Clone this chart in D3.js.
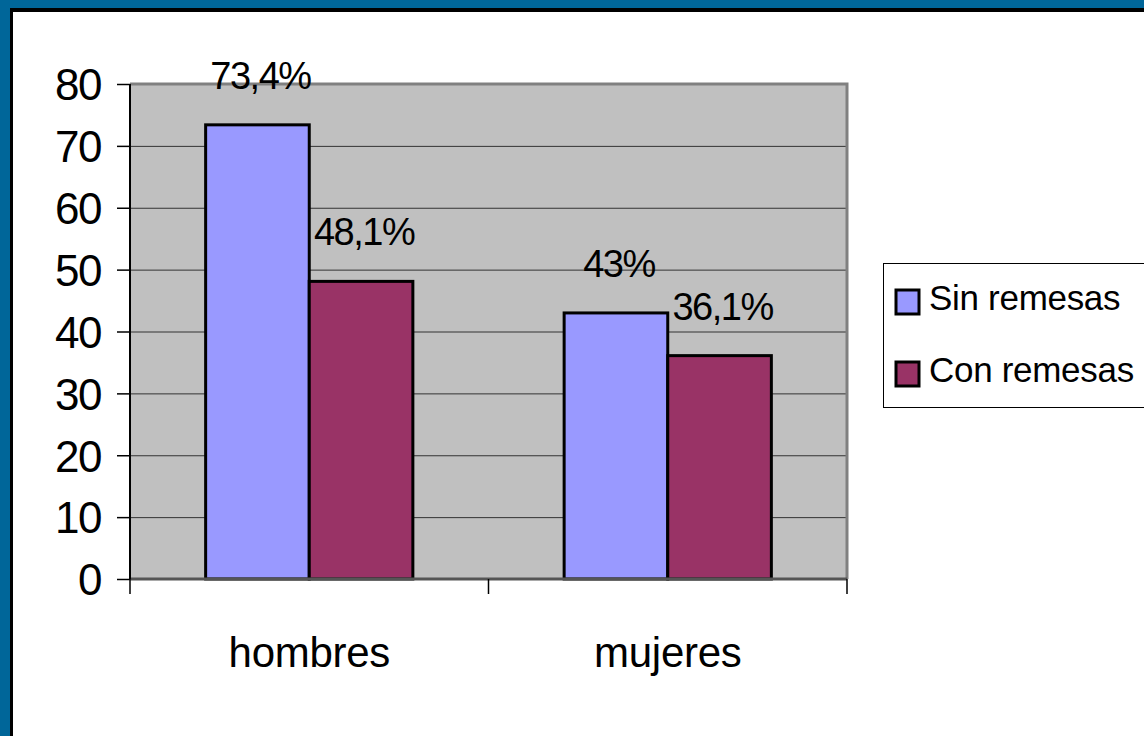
<!DOCTYPE html>
<html><head><meta charset="utf-8">
<script src="https://cdn.jsdelivr.net/npm/d3@7/dist/d3.min.js"></script>
<style>
html,body{margin:0;padding:0;background:#fff;}
svg{display:block;font-family:"Liberation Sans",Arial,sans-serif;}
</style></head>
<body>
<svg id="chart" width="1144" height="736"></svg>
<script>
const categories = ["hombres", "mujeres"];
const seriesNames = ["Sin remesas", "Con remesas"];
const sinRemesas = [73.4, 43];
const conRemesas = [48.1, 36.1];
const sinLabels = ["73,4%", "43%"];
const conLabels = ["48,1%", "36,1%"];
const yTicks = [0, 10, 20, 30, 40, 50, 60, 70, 80];
const colors = ["#9999FF", "#993366"];

const svg = d3.select("#chart");
// frame
svg.append("rect").attr("x",0).attr("y",0).attr("width",1144).attr("height",736).attr("fill","#006699");
svg.append("rect").attr("x",10).attr("y",8).attr("width",1144).attr("height",736).attr("fill","#000");
svg.append("rect").attr("x",13).attr("y",12).attr("width",1144).attr("height",736).attr("fill","#fff");

const L = 130, R = 847, T = 84, B = 579;
const x0 = d3.scaleBand().domain(categories).range([L, R]).paddingInner(0).paddingOuter(0);
const x1 = d3.scaleBand().domain(seriesNames).range([0, x0.bandwidth()]).paddingInner(0).paddingOuter(0.73);
const y = d3.scaleLinear().domain([0, 80]).range([B, T]);

// plot bg
svg.append("rect").attr("x",L).attr("y",T).attr("width",R-L).attr("height",B-T).attr("fill","#C0C0C0");
// grid
svg.append("g").selectAll("line").data(yTicks.filter(d=>d>0 && d<80)).join("line")
  .attr("x1",L).attr("x2",R).attr("y1",d=>y(d)+0.5).attr("y2",d=>y(d)+0.5)
  .attr("stroke","#333").attr("stroke-width",1);
// plot border top/right grey
svg.append("path").attr("d",`M${L},${T} H${R} V${B}`).attr("fill","none").attr("stroke","#808080").attr("stroke-width",3);

// bars
const data = categories.map((c,i)=>({cat:c, vals:[
  {s:seriesNames[0], v:sinRemesas[i], lab:sinLabels[i], col:colors[0]},
  {s:seriesNames[1], v:conRemesas[i], lab:conLabels[i], col:colors[1]}]}));
const g = svg.append("g").selectAll("g").data(data).join("g").attr("transform",d=>`translate(${x0(d.cat)},0)`);
g.selectAll("rect").data(d=>d.vals).join("rect")
  .attr("x",d=>x1(d.s)).attr("y",d=>y(d.v)).attr("width",x1.bandwidth()).attr("height",d=>B-y(d.v))
  .attr("fill",d=>d.col).attr("stroke","#000").attr("stroke-width",3);
g.selectAll("text").data(d=>d.vals).join("text")
  .attr("x",d=>x1(d.s)+x1.bandwidth()/2+3).attr("y",d=>y(d.v)-36)
  .attr("text-anchor","middle").attr("font-size",38).attr("letter-spacing",-1.5).attr("fill","#000")
  .text(d=>d.lab);

// bottom axis line
svg.append("line").attr("x1",L).attr("x2",R).attr("y1",B).attr("y2",B).attr("stroke","#555").attr("stroke-width",3);
// y axis
const yAxis = d3.axisLeft(y).tickValues(yTicks).tickSize(13).tickPadding(16).tickFormat(d3.format("d"));
const ya = svg.append("g").attr("transform",`translate(${L},0)`).call(yAxis);
ya.select(".domain").attr("stroke","#000").attr("stroke-width",2).attr("d",`M0,${T}V${B}`);
ya.selectAll(".tick line").attr("stroke","#000").attr("stroke-width",1.5);
ya.selectAll(".tick text").attr("font-size",44).attr("letter-spacing",-1.5).attr("fill","#000")
  .attr("font-family","Liberation Sans, Arial, sans-serif").attr("dy","0.36em");

// x axis
const xAxis = d3.axisBottom(x0).tickSize(0).tickPadding(0);
const xa = svg.append("g").attr("transform",`translate(0,${B})`).call(xAxis);
xa.select(".domain").remove();
xa.selectAll(".tick text").attr("font-size",42).attr("letter-spacing",-0.3).attr("fill","#000")
  .attr("font-family","Liberation Sans, Arial, sans-serif").attr("y",88).attr("dy",0);
// category separators
svg.append("g").selectAll("line").data([L, x0("mujeres"), R]).join("line")
  .attr("x1",d=>d).attr("x2",d=>d).attr("y1",B).attr("y2",B+15).attr("stroke","#000").attr("stroke-width",1.5);

// legend
const lg = svg.append("g");
lg.append("rect").attr("x",883.5).attr("y",263.5).attr("width",300).attr("height",144)
  .attr("fill","#fff").attr("stroke","#000").attr("stroke-width",1);
const li = lg.selectAll("g").data(seriesNames).join("g").attr("transform",(d,i)=>`translate(0,${i*72})`);
li.append("rect").attr("x",896).attr("y",290).attr("width",23).attr("height",24)
  .attr("fill",(d,i)=>colors[i]).attr("stroke","#000").attr("stroke-width",3);
li.append("text").attr("x",929).attr("y",310).attr("font-size",35).attr("letter-spacing",-0.3)
  .attr("fill","#000").text(d=>d);
</script>
</body></html>
